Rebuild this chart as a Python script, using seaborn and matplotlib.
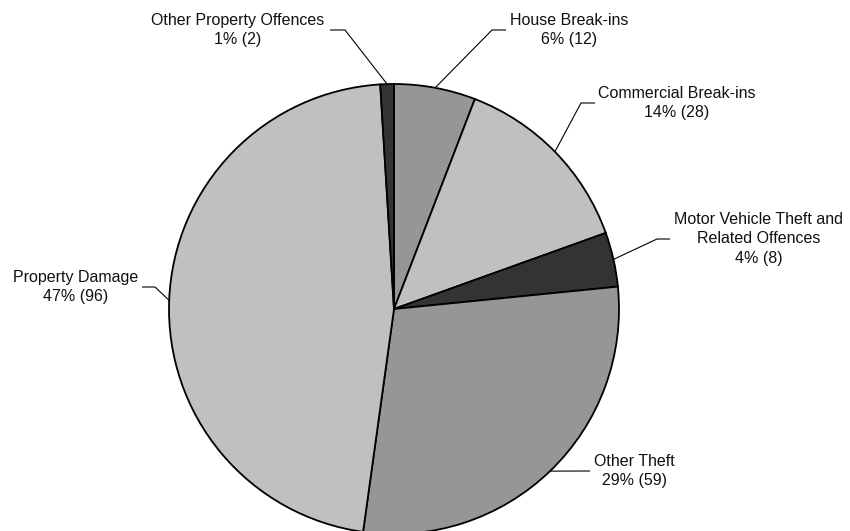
import numpy as np
import matplotlib
matplotlib.use("Agg")
import matplotlib.pyplot as plt
import seaborn as sns

# Property offences by category
categories = [
    "House Break-ins",
    "Commercial Break-ins",
    "Motor Vehicle Theft and\nRelated Offences",
    "Other Theft",
    "Property Damage",
    "Other Property Offences",
]
counts = [12, 28, 8, 59, 96, 2]
slice_colors = ["#969696", "#c0c0c0", "#333333", "#969696", "#c0c0c0", "#333333"]

sns.set_theme(style="white")
plt.rcParams["font.family"] = ["Liberation Sans", "DejaVu Sans"]

W, H = 850, 531
fig = plt.figure(figsize=(W / 100, H / 100), dpi=100)
ax = fig.add_axes([0, 0, 1, 1])

# pixel layout helpers: pie centre and radius in pixels
CX, CY, R = 394, 309, 225


def px(x, y):
    return (x - CX) / R, (CY - y) / R


wedges, _ = ax.pie(
    counts,
    colors=slice_colors,
    startangle=90,
    counterclock=False,
    radius=1,
    wedgeprops=dict(edgecolor="black", linewidth=1.3),
)

ax.set_xlim(-CX / R, (W - CX) / R)
ax.set_ylim((CY - H) / R, CY / R)
ax.set_aspect("auto")
ax.axis("off")

# label layout: (text centre x, text centre y, elbow x, line end x) in pixels
layout = [
    (569, 30, 492, 506),
    (677, 103, 581, 595),
    (759, 239, 657, 670),
    (634, 471, None, 590),
    (76, 287, 155, 142),
    (238, 30, 345, 330),
]

total = sum(counts)
for w, name, n, (tx, ty, ex, lx) in zip(wedges, categories, counts, layout):
    mid = np.deg2rad((w.theta1 + w.theta2) / 2)
    x0, y0 = np.cos(mid), np.sin(mid)
    pts = [(x0, y0)]
    if ex is not None:
        pts.append(px(ex, ty))
    pts.append(px(lx, ty))
    xs, ys = zip(*pts)
    ax.plot(xs, ys, color="black", linewidth=0.8, solid_capstyle="butt")
    pct = round(100 * n / total)
    tx_d, ty_d = px(tx, ty)
    ax.text(tx_d, ty_d, f"{name}\n{pct}% ({n})", ha="center", va="center",
            fontsize=11.5, color="#111111", linespacing=1.38)

fig.savefig("out.png", dpi=100)
